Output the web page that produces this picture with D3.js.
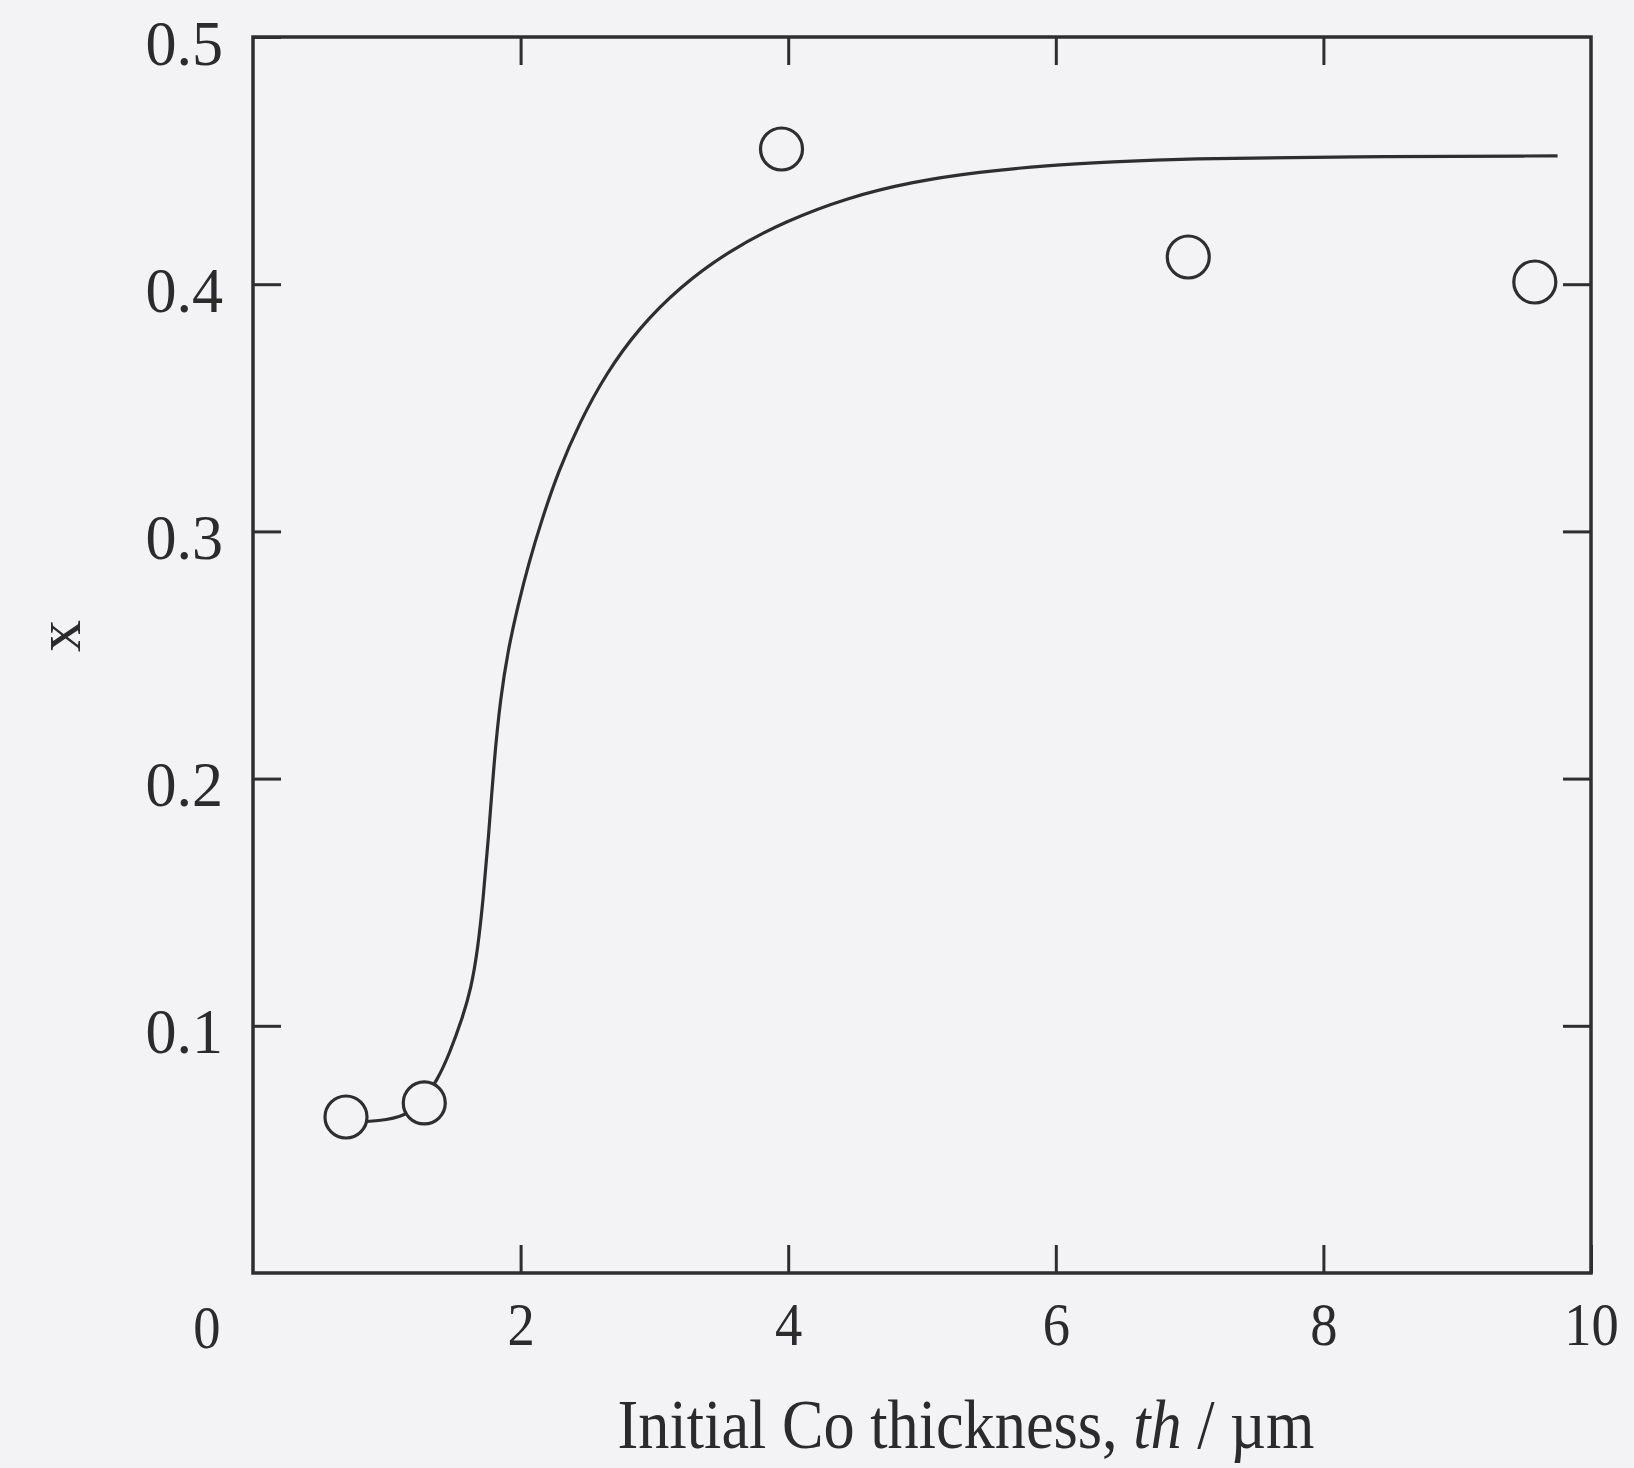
<!DOCTYPE html>
<html>
<head>
<meta charset="utf-8">
<script src="https://cdn.jsdelivr.net/npm/d3@7"></script>
<style>
  html, body { margin: 0; padding: 0; background: #f3f2f4; }
  svg { display: block; }
  text { font-family: "Liberation Serif", "Times New Roman", serif; fill: #2b2b2b; }
</style>
</head>
<body>
<svg id="chart" width="1634" height="1468"></svg>
<script>
// ---- data ----
const pointX = [0.695, 1.28, 3.95, 6.99, 9.58];
const pointY = [0.0631, 0.0688, 0.4547, 0.411, 0.4009];

const curveX = [0.69, 0.86, 1.11, 1.25, 1.38, 1.47, 1.56, 1.63, 1.68, 1.72, 1.76, 1.80, 1.85, 1.91, 1.98, 2.06, 2.16, 2.28, 2.44, 2.64, 2.88, 3.19, 3.57, 3.98, 4.44, 4.93, 5.43, 5.93, 6.43, 6.93, 8.2, 9.75];
const curveY = [0.0612, 0.0611, 0.0627, 0.068, 0.0781, 0.089, 0.1023, 0.1150, 0.1310, 0.1510, 0.1760, 0.2060, 0.2330, 0.2530, 0.2700, 0.2870, 0.3050, 0.3240, 0.3440, 0.3640, 0.3820, 0.3990, 0.4140, 0.4255, 0.4350, 0.4415, 0.4455, 0.4480, 0.4495, 0.4508, 0.4516, 0.4519];

const xTicks = [2, 4, 6, 8, 10];
const xTickLabels = ["2", "4", "6", "8", "10"];
const yTicks = [0.1, 0.2, 0.3, 0.4, 0.5];
const yTickLabels = ["0.1", "0.2", "0.3", "0.4", "0.5"];
const originLabel = "0";
const xTitleParts = [["Initial Co thickness, ", false], ["th", true], [" / \u00b5m", false]];
const yTitle = "x";

// ---- layout ----
const L = 253, R = 1591, T = 37, B = 1273;
const ink = "#2e2e2e";
const bg = "#f3f2f4";

const svg = d3.select("#chart");
const x = d3.scaleLinear().domain([0, 10]).range([L, R]);
const y = d3.scaleLinear().domain([0, 0.5]).range([B, T]);

const tickLen = 28;

// bottom axis
const gB = svg.append("g").attr("transform", `translate(0,${B})`)
  .call(d3.axisBottom(x).tickValues(xTicks).tickSize(-tickLen)
        .tickFormat((d, i) => xTickLabels[i]));
// top axis (ticks only)
const gT = svg.append("g").attr("transform", `translate(0,${T})`)
  .call(d3.axisTop(x).tickValues(xTicks.slice(0, 4)).tickSize(-tickLen).tickFormat(""));
// left axis
const gL = svg.append("g").attr("transform", `translate(${L},0)`)
  .call(d3.axisLeft(y).tickValues(yTicks).tickSize(-tickLen)
        .tickFormat((d, i) => yTickLabels[i]));
// right axis (ticks only)
const gR = svg.append("g").attr("transform", `translate(${R},0)`)
  .call(d3.axisRight(y).tickValues(yTicks.slice(0, 4)).tickSize(-tickLen).tickFormat(""));

[gB, gT, gL, gR].forEach(g => {
  g.select(".domain").remove();
  g.selectAll(".tick line").attr("stroke", ink).attr("stroke-width", 3);
});

gB.selectAll(".tick text")
  .attr("font-size", 62).attr("y", 0).attr("dy", null)
  .attr("transform", "translate(0,72) scale(0.88,1)")
  .attr("fill", "#2b2b2b");

gL.selectAll(".tick text")
  .attr("font-size", 64).attr("x", 0).attr("dy", "0.36em")
  .attr("text-anchor", "end")
  .attr("transform", "translate(-30,4) scale(0.97,1)")
  .attr("fill", "#2b2b2b");

// frame
svg.append("rect")
  .attr("x", L).attr("y", T).attr("width", R - L).attr("height", B - T)
  .attr("fill", "none").attr("stroke", ink).attr("stroke-width", 3.5);

// origin label
svg.append("text")
  .attr("transform", `translate(${x(0) - 46},${B + 75}) scale(0.88,1)`)
  .attr("text-anchor", "middle").attr("font-size", 62)
  .text(originLabel);

// curve
const curveData = curveX.map((v, i) => [v, curveY[i]]);
svg.append("path")
  .datum(curveData)
  .attr("fill", "none").attr("stroke", ink).attr("stroke-width", 3.2)
  .attr("d", d3.line().x(d => x(d[0])).y(d => y(d[1])).curve(d3.curveBasis));

// points
const pts = pointX.map((v, i) => [v, pointY[i]]);
svg.append("g").selectAll("circle").data(pts).join("circle")
  .attr("cx", d => x(d[0])).attr("cy", d => y(d[1])).attr("r", 21)
  .attr("fill", bg).attr("stroke", ink).attr("stroke-width", 3.2);

// x title (slightly condensed like the reference)
const xt = svg.append("text")
  .attr("transform", "translate(966,1448) scale(0.89,1)")
  .attr("text-anchor", "middle")
  .attr("font-size", 70);
xTitleParts.forEach(([t, it]) => {
  xt.append("tspan").attr("font-style", it ? "italic" : "normal").text(t);
});

// y title
svg.append("text")
  .attr("transform", "translate(80,636) rotate(-90)")
  .attr("text-anchor", "middle").attr("font-size", 64)
  .text(yTitle);
</script>
</body>
</html>
